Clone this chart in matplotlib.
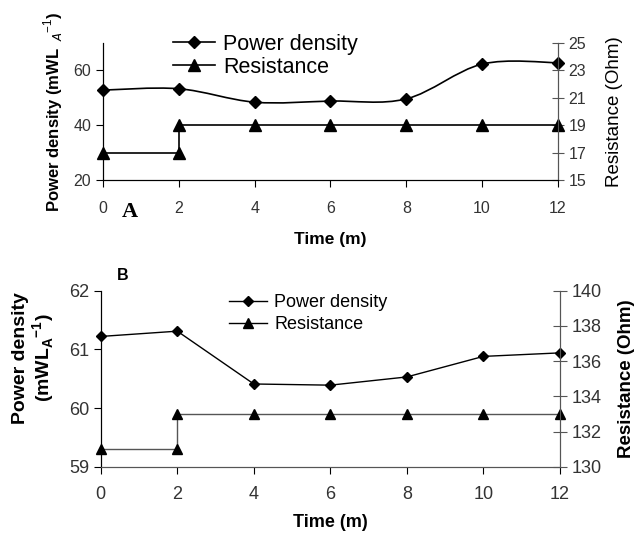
import matplotlib
matplotlib.use("Agg")
import matplotlib.pyplot as plt
from matplotlib.path import Path
from matplotlib.patches import PathPatch
from matplotlib.lines import Line2D
import numpy as np

plt.rcParams["font.family"] = ["Liberation Sans", "DejaVu Sans"]
plt.rcParams["mathtext.fontset"] = "custom"
plt.rcParams["mathtext.rm"] = "Liberation Sans"
plt.rcParams["mathtext.bf"] = "Liberation Sans:bold"

# donnees panneau A
temps = [0, 2, 4, 6, 8, 10, 12]
puissance_a = [52.8, 53.3, 48.4, 48.8, 49.6, 62.3, 62.8]
temps_res = [0, 2, 2, 4, 6, 8, 10, 12]
resistance_a = [17, 17, 19, 19, 19, 19, 19, 19]

# donnees panneau B
puissance_b = [61.22, 61.31, 60.41, 60.39, 60.53, 60.88, 60.94]
resistance_b = [131, 131, 133, 133, 133, 133, 133, 133]

gris = "#333333"


def courbe_lisse(ax, xs, ys, **kw):
    # courbe lissee facon Excel (bezier passant par les points)
    xs = np.asarray(xs, float)
    ys = np.asarray(ys, float)
    pts = np.column_stack([xs, ys])
    n = len(pts)
    verts = [pts[0]]
    codes = [Path.MOVETO]
    for i in range(n - 1):
        p0 = pts[i - 1] if i > 0 else pts[i]
        p1 = pts[i]
        p2 = pts[i + 1]
        p3 = pts[i + 2] if i + 2 < n else pts[i + 1]
        c1 = p1 + (p2 - p0) / 6.0
        c2 = p2 - (p3 - p1) / 6.0
        verts += [c1, c2, p2]
        codes += [Path.CURVE4] * 3
    patch = PathPatch(Path(verts, codes), fill=False, **kw)
    ax.add_patch(patch)
    return patch


fig = plt.figure(figsize=(6.34, 5.4), dpi=100)

# ---------------- panneau A ----------------
ax1 = fig.add_axes([0.1625, 0.6667, 0.7175, 0.2537])
ax1r = ax1.twinx()

courbe_lisse(ax1, temps, puissance_a, edgecolor="black", lw=1.2, clip_on=False)
ax1.plot(temps, puissance_a, ls="none", marker="D", ms=6.5, color="black", clip_on=False, zorder=5)
ax1r.plot(temps_res, resistance_a, color="black", lw=1.2, marker="^", ms=8, clip_on=False)

ax1.set_xlim(0, 12)
ax1.set_ylim(20, 70)
ax1.set_yticks([20, 40, 60])
ax1r.set_ylim(15, 25)
ax1r.set_yticks([15, 17, 19, 21, 23, 25])
ax1.set_xticks(temps)

for a in (ax1, ax1r):
    a.spines["top"].set_visible(False)
    a.spines["left"].set_color("black")
    a.spines["bottom"].set_color("black")
    a.spines["right"].set_color("#555555")
ax1.tick_params(labelsize=11.5, labelcolor=gris, direction="out", length=5)
ax1.tick_params(axis="x", pad=10)
ax1r.tick_params(labelsize=11.5, labelcolor=gris, direction="inout", length=8, color="#555555")

ax1.set_ylabel("Power density (mWL$_{\\ \\ A}$$^{-1}$)", fontsize=12, fontweight="bold", labelpad=6)
ax1r.set_ylabel("Resistance (Ohm)", fontsize=13.5, labelpad=14)
ax1.set_xlabel("Time (m)", fontsize=12.5, fontweight="bold", labelpad=12)

fig.text(130 / 634, 1 - 212 / 540, "A", fontsize=16, fontweight="bold",
         family="Liberation Serif", ha="center", va="center")

poignees_a = [
    Line2D([], [], color="black", lw=1.2, marker="D", ms=6.5),
    Line2D([], [], color="black", lw=1.2, marker="^", ms=8),
]
fig.legend(poignees_a, ["Power density", "Resistance"], loc="upper left",
           bbox_to_anchor=(162 / 634, 1 - 23 / 540), frameon=False, fontsize=15.5,
           handlelength=1.95, handletextpad=0.4, labelspacing=0.1, borderpad=0)

# ---------------- panneau B ----------------
ax2 = fig.add_axes([0.159, 0.1357, 0.724, 0.326])
ax2r = ax2.twinx()

ax2.plot(temps, puissance_b, color="black", lw=1.0, marker="D", ms=5.5, clip_on=False, zorder=5)
ax2r.plot(temps_res, resistance_b, color="#555555", lw=1.0, marker="^", ms=7,
          mfc="black", mec="black", clip_on=False)

ax2.set_xlim(0, 12)
ax2.set_ylim(59, 62)
ax2.set_yticks([59, 60, 61, 62])
ax2r.set_ylim(130, 140)
ax2r.set_yticks([130, 132, 134, 136, 138, 140])
ax2.set_xticks(temps)

for a in (ax2, ax2r):
    a.spines["top"].set_visible(False)
    a.spines["left"].set_color("black")
    a.spines["bottom"].set_color("#555555")
    a.spines["right"].set_color("#555555")
ax2.tick_params(labelsize=13, labelcolor=gris, direction="out", length=5)
ax2.tick_params(axis="x", pad=9)
ax2r.tick_params(labelsize=13, labelcolor=gris, direction="inout", length=10, color="#555555")

ax2.set_ylabel("Power density\n(mWL$_{\\mathbf{A}}$$^{\\mathbf{-1}}$)", fontsize=14,
               fontweight="bold", linespacing=1.05)
ax2.yaxis.set_label_coords(-0.096, 0.62)
ax2r.set_ylabel("Resistance (Ohm)", fontsize=13.5, fontweight="bold", labelpad=12)
ax2.set_xlabel("Time (m)", fontsize=13, fontweight="bold", labelpad=8)

fig.text(123 / 634, 1 - 275 / 540, "B", fontsize=11.5, fontweight="bold",
         ha="center", va="center")

poignees_b = [
    Line2D([], [], color="black", lw=1.0, marker="D", ms=5),
    Line2D([], [], color="black", lw=1.0, marker="^", ms=7),
]
fig.legend(poignees_b, ["Power density", "Resistance"], loc="upper left",
           bbox_to_anchor=(220 / 634, 1 - 285 / 540), frameon=False, fontsize=13,
           handlelength=2.1, handletextpad=0.4, labelspacing=0.3, borderpad=0)

fig.savefig("out.png", dpi=100, facecolor="white")
